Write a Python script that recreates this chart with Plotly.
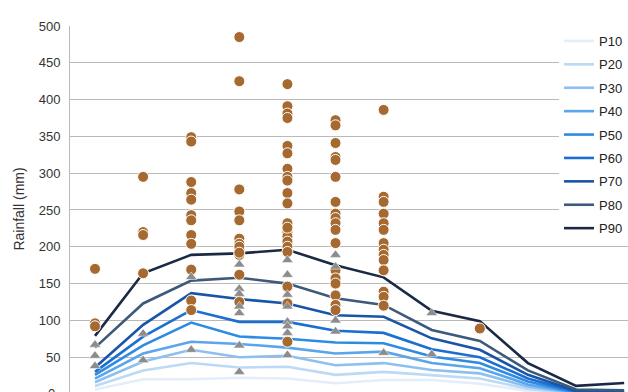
import plotly.graph_objects as go

months = ["Jan", "Feb", "Mar", "Apr", "May", "Jun", "Jul", "Aug", "Sep", "Oct", "Nov", "Dec"]

p10 = [6, 20, 20, 22, 21, 14.5, 19, 19, 14, 4, 0, 0]
p20 = [11, 32, 42, 36, 37, 26, 30, 26, 21, 7, 0.5, 0.5]
p30 = [16, 44, 60, 50, 52, 39, 42, 32.6, 28, 10, 1, 1]
p40 = [21, 55, 71, 68, 63, 55, 57.5, 42, 35, 13, 1.5, 1]
p50 = [26, 66, 97, 78, 75, 70, 69, 51, 42, 17, 2, 2]
p60 = [30, 78, 114, 98, 98, 86, 83, 60.7, 50, 21, 3, 2]
p70 = [36, 94, 137, 129, 123, 107, 105, 75.6, 60, 26, 4, 3]
p80 = [63, 123, 154, 158, 150, 130, 121, 87, 72, 32, 6, 5]
p90 = [79, 164, 189, 191, 196, 175, 158.5, 113, 99, 42, 11, 15]

series_names = ["P10", "P20", "P30", "P40", "P50", "P60", "P70", "P80", "P90"]
series_values = [p10, p20, p30, p40, p50, p60, p70, p80, p90]
series_colors = ["#e3eefa", "#bcd9f5", "#8dc0f0", "#5aa5ec", "#2d8be4",
                 "#1c6fd1", "#1855a8", "#3d5a7a", "#1b2a44"]

# observed values (brown circles)
obs_month = (["Jan"] * 3 + ["Feb"] * 4 + ["Mar"] * 12 + ["Apr"] * 13 +
             ["May"] * 21 + ["Jun"] * 18 + ["Jul"] * 14 + ["Sep"] * 1)
obs_value = [
    170, 96, 92,
    295, 220, 216, 164,
    349, 343, 288, 273, 264, 243, 236, 216, 204, 169, 127, 114,
    485, 425, 278, 248, 236, 211, 204, 196, 189, 162, 125, 200, 192,
    421, 391, 381, 375, 337, 327, 306, 295, 290, 273, 259, 232, 220, 214, 207, 200, 193, 146, 123, 71, 226,
    372, 365, 341, 322, 318, 295, 261, 245, 239, 232, 223, 205, 168, 157, 150, 134, 121, 114,
    386, 268, 261, 245, 232, 223, 205, 196, 189, 182, 168, 139, 132, 120,
    89,
]

# second set (grey triangles)
tri_month = (["Jan"] * 3 + ["Feb"] * 2 + ["Mar"] * 2 + ["Apr"] * 7 +
             ["May"] * 8 + ["Jun"] * 4 + ["Jul"] * 1 + ["Aug"] * 2)
tri_value = [
    67, 52, 38,
    82, 46,
    159, 60,
    176, 143, 136, 119, 110, 66, 30,
    182, 162, 135, 119, 98, 92, 83, 53,
    189, 173, 100, 85,
    56,
    110, 54,
]

Y_MIN, Y_MAX = 2.7, 500

fig = go.Figure()

for name, vals, col in zip(series_names, series_values, series_colors):
    fig.add_trace(go.Scatter(
        x=months, y=vals, mode="lines", name=name,
        line=dict(color=col, width=2.6),
        legendgroup=name,
    ))

fig.add_trace(go.Scatter(
    x=obs_month, y=obs_value, mode="markers", showlegend=False,
    marker=dict(symbol="circle", size=11, color="#a66a31",
                line=dict(color="white", width=1)),
))
fig.add_trace(go.Scatter(
    x=tri_month, y=tri_value, mode="markers", showlegend=False,
    marker=dict(symbol="triangle-up", size=10, color="#8c8c8c",
                line=dict(color="white", width=0.5)),
))

# partially visible "0" tick label at the cropped bottom edge
fig.add_annotation(text="0", xref="paper", yref="paper", x=-0.023,
                   y=(0 - Y_MIN) / (Y_MAX - Y_MIN),
                   xanchor="right", yanchor="middle", showarrow=False,
                   font=dict(family="Liberation Sans, Arial", size=13, color="#333333"))

fig.update_layout(
    width=628, height=392,
    margin=dict(l=70, r=0, t=26, b=0),
    paper_bgcolor="white", plot_bgcolor="white",
    font=dict(family="Liberation Sans, Arial", size=13, color="#333333"),
    xaxis=dict(
        type="category", categoryorder="array", categoryarray=months,
        range=[-0.52, 11.08], showgrid=False, showticklabels=False,
        zeroline=False, showline=False,
    ),
    yaxis=dict(
        range=[Y_MIN, Y_MAX], tickvals=[50, 100, 150, 200, 250, 300, 350, 400, 450, 500],
        showgrid=True, gridcolor="#bababa", gridwidth=1,
        showline=True, linecolor="#bababa", linewidth=1,
        zeroline=False, ticks="", ticklabelstandoff=6,
        title=dict(text="Rainfall (mm)", standoff=10,
                   font=dict(size=14, color="#333333")),
    ),
    legend=dict(
        x=0.877, xanchor="left", y=1.0, yanchor="top",
        bgcolor="white", borderwidth=0,
        font=dict(size=13, color="#222222"),
        traceorder="grouped", tracegroupgap=3.5,
    ),
)

fig.write_html("out.html")
